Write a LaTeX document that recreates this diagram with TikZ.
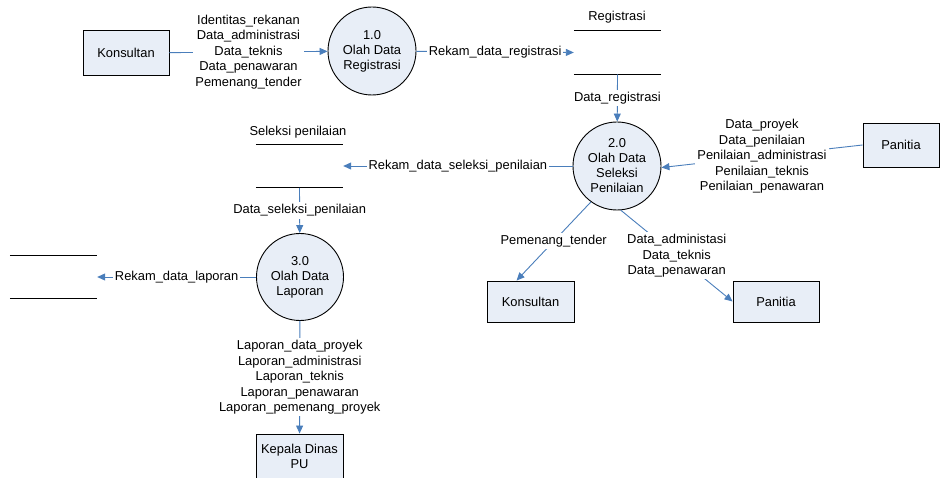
\documentclass[tikz,border=0pt]{standalone}
\usepackage{fontspec}
\setmainfont{Liberation Sans}
\usetikzlibrary{arrows.meta}
\definecolor{flow}{RGB}{74,126,187}
\definecolor{boxfill}{RGB}{232,238,247}
\begin{document}
\begin{tikzpicture}[x=1pt,y=-1pt,
  font=\fontsize{12.9}{15.5}\selectfont,
  ent/.style={draw=black, fill=boxfill, line width=0.9pt, minimum width=86pt, minimum height=44pt, inner sep=0pt, align=center},
  proc/.style={circle, draw=black, fill=boxfill, line width=0.9pt, minimum size=88pt, inner sep=0pt, align=center, font=\fontsize{12.9}{15}\selectfont},
  flowline/.style={draw=flow, line width=0.9pt, -{Triangle[length=8pt,width=7pt]}},
  lbl/.style={midway, fill=white, inner sep=2pt, align=center, text=black},
  storebox/.style={minimum width=87pt, minimum height=43.5pt, inner sep=0pt},
  storeline/.style={draw=black, line width=0.9pt}]
\useasboundingbox (0,0) rectangle (940,478);
\clip (0,0) rectangle (940,478);

% external entities
\node[ent, minimum height=45pt] (k1) at (126,53) {Konsultan};
\node[ent, minimum width=76pt] (p1) at (901,145) {Panitia};
\node[ent, minimum width=87pt, minimum height=41pt] (k2) at (530.5,301.5) {Konsultan};
\node[ent, minimum height=41pt] (p2) at (776,301.5) {Panitia};
\node[ent, minimum width=87pt, minimum height=45pt] (kd) at (299.5,456.5) {Kepala Dinas\\PU};

% processes
\node[proc] (c1) at (372,51) {1.0\\Olah Data\\Registrasi};
\node[proc] (c2) at (617,166) {2.0\\Olah Data\\Seleksi\\Penilaian};
\node[proc, minimum size=87pt] (c3) at (300,277) {3.0\\Olah Data\\Laporan};

% data stores
\node[storebox] (s1) at (617.5,52.5) {};
\draw[storeline] (s1.north west) -- (s1.north east);
\draw[storeline] (s1.south west) -- (s1.south east);
\node (s1l) at (617,17) {Registrasi};

\node[storebox] (s2) at (299.5,166) {};
\draw[storeline] (s2.north west) -- (s2.north east);
\draw[storeline] (s2.south west) -- (s2.south east);
\node (s2l) at (298,132) {Seleksi penilaian};

\node[storebox] (s3) at (53.5,277) {};
\draw[storeline] (s3.north west) -- (s3.north east);
\draw[storeline] (s3.south west) -- (s3.south east);

% flows
\draw[flowline] (k1) -- (c1) node[lbl] {Identitas\_rekanan\\Data\_administrasi\\Data\_teknis\\Data\_penawaran\\Pemenang\_tender};
\draw[flowline] (c1) -- (s1.west) node[lbl] {Rekam\_data\_registrasi};
\draw[flowline] (s1.south) -- (c2) node[lbl] {Data\_registrasi};
\draw[flowline] (p1.west) -- (c2.-2) node[lbl] {Data\_proyek\\Data\_penilaian\\Penilaian\_administrasi\\Penilaian\_teknis\\Penilaian\_penawaran};
\draw[flowline] (c2) -- (s2.east) node[lbl] {Rekam\_data\_seleksi\_penilaian};
\draw[flowline] (c2.234) -- ([xshift=30pt]k2.north west) node[lbl] {Pemenang\_tender};
\draw[flowline] (c2.-85) -- (p2.west) node[lbl] {Data\_administasi\\Data\_teknis\\Data\_penawaran};
\draw[flowline] (s2.south) -- (c3) node[lbl] {Data\_seleksi\_penilaian};
\draw[flowline] (c3) -- (s3.east) node[lbl] {Rekam\_data\_laporan};
\draw[flowline] (c3) -- (kd) node[lbl] {Laporan\_data\_proyek\\Laporan\_administrasi\\Laporan\_teknis\\Laporan\_penawaran\\Laporan\_pemenang\_proyek};
\end{tikzpicture}
\end{document}
